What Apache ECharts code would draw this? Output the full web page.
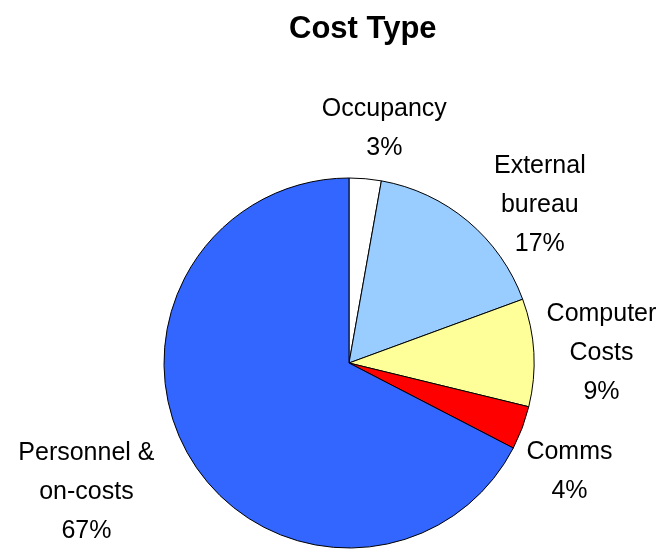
<!DOCTYPE html>
<html>
<head>
<meta charset="utf-8">
<script src="https://cdn.jsdelivr.net/npm/echarts@6/dist/echarts.min.js"></script>
<style>
  html, body { margin: 0; padding: 0; background: #fff; }
  #main { width: 656px; height: 549px; }
</style>
</head>
<body>
<div id="main"></div>
<script>
    // data, clockwise from 12 o'clock
    var categories = ['Occupancy', 'External\nbureau', 'Computer\nCosts', 'Comms', 'Personnel &\non-costs'];
    var shares = [2.8, 16.6, 9.4, 3.8, 67.4];
    var colors = ['#ffffff', '#99ccff', '#ffff99', '#ff0000', '#3366ff'];

    var PIE_X = 349, PIE_Y = 363, PIE_R = 185;
    // small hand nudges so the labels sit where the original put them
    var labelNudge = [[12, 7], [31, 43], [-5, 5], [-10, 24], [-31, -7]];

    var pieData = [];
    for (var i = 0; i < categories.length; i++) {
        pieData.push({ name: categories[i], value: shares[i], itemStyle: { color: colors[i] } });
    }

    var myChart = echarts.init(document.getElementById('main'));

    var option = {
        backgroundColor: '#fff',
        animation: false,
        title: {
            text: 'Cost Type',
            left: 284,
            top: 9,
            textStyle: { fontFamily: 'Liberation Sans', fontSize: 31, fontWeight: 'bold', color: '#000' }
        },
        series: [
            {
                // the visible pie
                type: 'pie',
                center: [PIE_X, PIE_Y],
                radius: PIE_R,
                startAngle: 90,
                clockwise: true,
                silent: true,
                label: { show: false },
                labelLine: { show: false },
                itemStyle: { borderColor: '#000', borderWidth: 1 },
                data: pieData
            },
            {
                // invisible ring, only carries the labels outside the pie
                type: 'pie',
                center: [PIE_X, PIE_Y],
                radius: [PIE_R, PIE_R + 30],
                startAngle: 90,
                clockwise: true,
                silent: true,
                itemStyle: { color: 'rgba(0,0,0,0)', borderWidth: 0 },
                labelLine: { show: false },
                label: {
                    show: true,
                    position: 'inside',
                    color: '#000',
                    fontFamily: 'Liberation Sans',
                    fontSize: 25,
                    lineHeight: 39,
                    align: 'center',
                    formatter: function (p) {
                        return p.name + '\n' + Math.round(p.percent) + '%';
                    }
                },
                labelLayout: function (p) {
                    // push the label box out so its inner edge sits at the ring
                    var r = p.labelRect;
                    var mx = r.x + r.width / 2 - PIE_X;
                    var my = r.y + r.height / 2 - PIE_Y;
                    var len = Math.sqrt(mx * mx + my * my) || 1;
                    var n = labelNudge[p.dataIndex];
                    return {
                        dx: mx / len * r.width / 2 + n[0],
                        dy: my / len * r.height / 2 + n[1]
                    };
                },
                data: pieData.map(function (d) { return { name: d.name, value: d.value }; })
            }
        ]
    };
    myChart.setOption(option);
</script>
</body>
</html>
